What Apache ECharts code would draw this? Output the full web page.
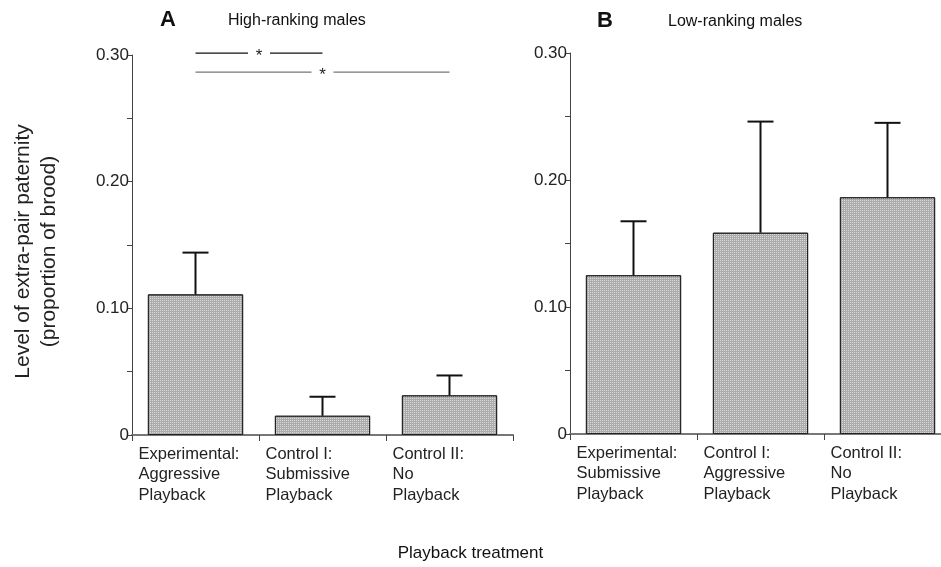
<!DOCTYPE html>
<html>
<head>
<meta charset="utf-8">
<script src="https://cdn.jsdelivr.net/npm/echarts@6/dist/echarts.min.js"></script>
<style>
  html, body { margin: 0; padding: 0; background: #fff; }
  #chart { width: 941px; height: 567px; }
</style>
</head>
<body>
<div id="chart"></div>
<script>
// panel A: high-ranking males
const catsA = ["Experimental:\nAggressive\nPlayback", "Control I:\nSubmissive\nPlayback", "Control II:\nNo\nPlayback"];
const meanA = [0.111, 0.0152, 0.0313];
const errTopA = [0.144, 0.0302, 0.047];
// panel B: low-ranking males
const catsB = ["Experimental:\nSubmissive\nPlayback", "Control I:\nAggressive\nPlayback", "Control II:\nNo\nPlayback"];
const meanB = [0.125, 0.1585, 0.1864];
const errTopB = [0.1675, 0.246, 0.245];
// significance brackets in panel A: [from, to, level]
const sigA = [[0, 1, 0.3015], [0, 2, 0.2865]];
const sigColors = ["#111", "#777"];

const font = "Liberation Sans, Arial, sans-serif";

// stippled grey fill like the printed figure
const barStyle = {
  color: "#ababab",
  borderColor: "#222",
  borderWidth: 1,
  decal: {
    symbol: "rect",
    symbolSize: 1,
    dashArrayX: [1, 1],
    dashArrayY: [1, 1],
    color: "rgba(255,255,255,0.55)",
  },
};

const yAxisBase = (gi, withName) => ({
  type: "value",
  gridIndex: gi,
  min: 0,
  max: 0.3,
  interval: 0.05,
  splitLine: { show: false },
  axisLine: { show: true, lineStyle: { color: "#444", width: 1 } },
  axisTick: { show: true, length: 5, lineStyle: { color: "#444" } },
  axisLabel: {
    margin: 3,
    color: "#222",
    fontSize: 17,
    fontFamily: font,
    formatter: (v) => {
      const k = Math.round(v * 100);
      if (k === 0) return "0";
      if (k % 10 !== 0) return "";
      return v.toFixed(2);
    },
  },
  name: withName ? "Level of extra-pair paternity\n(proportion of brood)" : "",
  nameLocation: "middle",
  nameGap: 70,
  nameRotate: 90,
  nameTextStyle: { fontSize: 21, fontFamily: font, color: "#222", lineHeight: 26, padding: [0, 13, 0, 0] },
});

const xAxisBase = (gi, cats) => ({
  type: "category",
  gridIndex: gi,
  data: cats,
  axisLine: { show: true, lineStyle: { color: "#777", width: 2 } },
  axisTick: { show: true, length: 6, lineStyle: { color: "#444" } },
  axisLabel: {
    interval: 0,
    margin: 9,
    formatter: (v) => v.split("\n").map((s) => "{a|" + s + "}").join("\n"),
    rich: {
      a: { width: 114, align: "left", fontSize: 16.5, fontFamily: font, color: "#222", lineHeight: 20.5 },
    },
  },
});

const errorSeries = (gi, means, tops) => ({
  type: "custom",
  xAxisIndex: gi,
  yAxisIndex: gi,
  data: means.map((m, i) => [i, m, tops[i]]),
  encode: { x: 0, y: [1, 2] },
  z: 5,
  renderItem: (params, api) => {
    const base = api.coord([api.value(0), api.value(1)]);
    const top = api.coord([api.value(0), api.value(2)]);
    const hw = 13;
    return {
      type: "group",
      children: [
        { type: "line", shape: { x1: base[0], y1: base[1], x2: top[0], y2: top[1] }, style: { stroke: "#111", lineWidth: 2 } },
        { type: "line", shape: { x1: top[0] - hw, y1: top[1], x2: top[0] + hw, y2: top[1] }, style: { stroke: "#111", lineWidth: 2 } },
      ],
    };
  },
});

const titleStyle = (size, weight) => ({ fontSize: size, fontWeight: weight, fontFamily: font, color: "#111" });

const chart = echarts.init(document.getElementById("chart"));
chart.setOption({
  animation: false,
  aria: { enabled: false },
  title: [
    { text: "A", left: 160, top: 9, padding: 0, textStyle: titleStyle(22, "bold") },
    { text: "High-ranking males", left: 228, top: 13, padding: 0, textStyle: titleStyle(16, "normal") },
    { text: "B", left: 597, top: 10, padding: 0, textStyle: titleStyle(22, "bold") },
    { text: "Low-ranking males", left: 668, top: 14, padding: 0, textStyle: titleStyle(16, "normal") },
    { text: "Playback treatment", left: "center", top: 540, textStyle: titleStyle(17, "normal") },
  ],
  grid: [
    { left: 132, top: 55, width: 381, height: 380, outerBoundsMode: "none" },
    { left: 570, top: 53, width: 381, height: 381, outerBoundsMode: "none" },
  ],
  xAxis: [xAxisBase(0, catsA), xAxisBase(1, catsB)],
  yAxis: [yAxisBase(0, true), yAxisBase(1, false)],
  series: [
    { type: "bar", xAxisIndex: 0, yAxisIndex: 0, data: meanA, barWidth: "75%", itemStyle: barStyle },
    { type: "bar", xAxisIndex: 1, yAxisIndex: 1, data: meanB, barWidth: "75%", itemStyle: barStyle },
    errorSeries(0, meanA, errTopA),
    errorSeries(1, meanB, errTopB),
    {
      type: "custom",
      xAxisIndex: 0,
      yAxisIndex: 0,
      clip: false,
      data: sigA,
      encode: { x: [0, 1], y: 2 },
      renderItem: (params, api) => {
        const p0 = api.coord([api.value(0), api.value(2)]);
        const p1 = api.coord([api.value(1), api.value(2)]);
        const mx = (p0[0] + p1[0]) / 2;
        const gap = 11;
        const col = sigColors[params.dataIndex];
        return {
          type: "group",
          children: [
            { type: "line", shape: { x1: p0[0], y1: p0[1], x2: mx - gap, y2: p0[1] }, style: { stroke: col, lineWidth: 1.2 } },
            { type: "line", shape: { x1: mx + gap, y1: p1[1], x2: p1[0], y2: p1[1] }, style: { stroke: col, lineWidth: 1.2 } },
            { type: "text", x: mx, y: p0[1] + 3, style: { text: "*", fill: "#222", fontSize: 17, fontFamily: font, align: "center", verticalAlign: "middle" } },
          ],
        };
      },
    },
  ],
});
</script>
</body>
</html>
